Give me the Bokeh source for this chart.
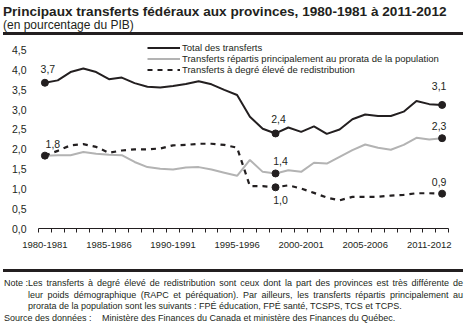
from bokeh.plotting import figure
from bokeh.models import (Range1d, FixedTicker, CustomJSTickFormatter, Legend, LegendItem,
                          Div, ColumnDataSource)
from bokeh.layouts import column
from bokeh.core.properties import value
from bokeh.embed import file_html
from bokeh.resources import INLINE

# ---------------- data ----------------
years = ["1980-1981", "1981-1982", "1982-1983", "1983-1984", "1984-1985", "1985-1986",
         "1986-1987", "1987-1988", "1988-1989", "1989-1990", "1990-1991", "1991-1992",
         "1992-1993", "1993-1994", "1994-1995", "1995-1996", "1996-1997", "1997-1998",
         "1998-1999", "1999-2000", "2000-2001", "2001-2002", "2002-2003", "2003-2004",
         "2004-2005", "2005-2006", "2006-2007", "2007-2008", "2008-2009", "2009-2010",
         "2010-2011", "2011-2012"]
total = [3.68, 3.74, 3.95, 4.04, 3.95, 3.77, 3.81, 3.67, 3.58, 3.56, 3.60, 3.65, 3.72, 3.64,
         3.50, 3.37, 2.82, 2.52, 2.40, 2.55, 2.44, 2.58, 2.39, 2.50, 2.76, 2.88, 2.84, 2.84,
         2.95, 3.22, 3.14, 3.12]
population = [1.84, 1.85, 1.85, 1.93, 1.89, 1.86, 1.85, 1.68, 1.55, 1.51, 1.49, 1.54, 1.55,
              1.49, 1.41, 1.33, 1.73, 1.43, 1.39, 1.47, 1.43, 1.66, 1.64, 1.81, 1.98, 2.12,
              2.04, 1.99, 2.11, 2.29, 2.25, 2.28]
redistribution = [1.84, 1.96, 2.10, 2.13, 2.06, 1.91, 1.97, 2.00, 2.00, 2.02, 2.10, 2.11, 2.14,
                  2.14, 2.11, 2.04, 1.07, 1.07, 1.04, 1.09, 1.01, 0.90, 0.78, 0.71, 0.80, 0.80,
                  0.80, 0.83, 0.85, 0.89, 0.89, 0.88]
tick_positions = [0, 5, 10, 15, 20, 25, 30]
tick_labels = ["1980-1981", "1985-1986", "1990-1991", "1995-1996", "2000-2001", "2005-2006",
               "2011-2012"]
y_ticks = [0, 0.5, 1.0, 1.5, 2.0, 2.5, 3.0, 3.5, 4.0, 4.5]
series_names = ["Total des transferts",
                "Transferts répartis principalement au prorata de la population",
                "Transferts à degré élevé de redistribution"]
title_text = "Principaux transferts fédéraux aux provinces, 1980-1981 à 2011-2012"
subtitle_text = "(en pourcentage du PIB)"
note_lines = ["Les transferts à degré élevé de redistribution sont ceux dont la part des provinces est très différente de",
              "leur poids démographique (RAPC et péréquation). Par ailleurs, les transferts répartis principalement au",
              "prorata de la population sont les suivants : FPÉ éducation, FPÉ santé, TCSPS, TCS et TCPS."]
source_text = "Ministère des Finances du Canada et ministère des Finances du Québec."

FONT = "Liberation Sans"
DARK = "#231f20"
GRAY = "#b3b3b3"

x = list(range(len(years)))

# ---------------- figure ----------------
p = figure(width=467, height=228, output_backend="svg", toolbar_location=None,
           x_range=Range1d(-0.5, len(years) - 0.5), y_range=Range1d(0, 4.747),
           min_border_left=38, min_border_right=19, min_border_top=2, min_border_bottom=38,
           margin=0)
p.outline_line_color = None
p.xgrid.visible = False
p.ygrid.visible = False
p.background_fill_color = "white"
p.border_fill_color = "white"

src = ColumnDataSource(dict(x=x, total=total, pop=population, red=redistribution))
r_tot = p.line("x", "total", source=src, line_color=DARK, line_width=2)
r_pop = p.line("x", "pop", source=src, line_color=GRAY, line_width=2)
r_red = p.line("x", "red", source=src, line_color=DARK, line_width=2.2, line_dash="5 5")

def fmt(v):
    return f"{v:.1f}".replace(".", ",")

pts = [  # (index, series, x_offset, y_offset)
    (0, total, 3, -13.5), (0, population, 8, -12),
    (18, total, 3, -14), (18, population, 5, -12), (18, redistribution, 5, 12.5),
    (31, total, -3, -18.5), (31, population, -3, -12.5), (31, redistribution, -3, -12),
]
lab = ColumnDataSource(dict(
    x=[i for i, s, dx, dy in pts], y=[s[i] for i, s, dx, dy in pts],
    t=[fmt(s[i]) for i, s, dx, dy in pts],
    dx=[dx for i, s, dx, dy in pts], dy=[dy for i, s, dx, dy in pts]))
p.scatter("x", "y", source=lab, size=7, color=DARK)
p.text("x", "y", text="t", source=lab, x_offset="dx", y_offset="dy", text_align="center",
       text_baseline="middle", text_font=value(FONT), text_font_size="10.5px",
       text_color=DARK)

# axes
xa = p.xaxis[0]
xa.ticker = FixedTicker(ticks=tick_positions,
                        minor_ticks=[i - 0.5 for i in range(len(years) + 1)])
xa.major_label_overrides = {pos: lbl for pos, lbl in zip(tick_positions, tick_labels)}
xa.major_tick_out = 0
xa.major_tick_in = 0
xa.minor_tick_out = 4
xa.minor_tick_in = 0
xa.minor_tick_line_color = DARK
xa.axis_line_color = DARK
xa.axis_line_width = 1
xa.major_label_standoff = 9
xa.major_label_text_font = FONT
xa.major_label_text_font_size = "9.5px"
xa.major_label_text_color = DARK

ya = p.yaxis[0]
ya.ticker = FixedTicker(ticks=y_ticks)
ya.formatter = CustomJSTickFormatter(code="return tick.toFixed(1).replace('.', ',')")
ya.axis_line_color = None
ya.major_tick_line_color = None
ya.minor_tick_line_color = None
ya.major_label_standoff = 6
ya.major_label_text_font = FONT
ya.major_label_text_font_size = "10.5px"
ya.major_label_text_color = DARK

legend = Legend(items=[LegendItem(label=series_names[0], renderers=[r_tot]),
                       LegendItem(label=series_names[1], renderers=[r_pop]),
                       LegendItem(label=series_names[2], renderers=[r_red])],
                location=(109, 153), orientation="vertical",
                glyph_width=33, glyph_height=11, label_height=11, label_standoff=2,
                spacing=0, padding=0, margin=0, border_line_color=None,
                background_fill_alpha=0, label_text_font=FONT, label_text_font_size="9.5px",
                label_text_color=DARK)
p.add_layout(legend, "center")

# ---------------- text blocks ----------------
top_html = f"""
<div style="position:relative;width:467px;height:38px;font-family:'{FONT}';color:{DARK};">
  <div style="position:absolute;left:3px;top:2px;font-size:13.6px;font-weight:bold;white-space:nowrap;">{title_text}</div>
  <div style="position:absolute;left:3px;top:17px;font-size:12px;white-space:nowrap;">{subtitle_text}</div>
  <div style="position:absolute;left:3px;top:32px;width:460px;height:3px;background:{DARK};"></div>
</div>"""
jl = "text-align:justify;text-align-last:justify;"
bottom_html = f"""
<div style="position:relative;width:467px;height:59px;font-family:'{FONT}';color:{DARK};font-size:9px;line-height:11.5px;">
  <div style="position:absolute;left:3px;top:3px;width:460px;height:3px;background:{DARK};"></div>
  <div style="position:absolute;left:4px;top:12px;white-space:nowrap;">Note :</div>
  <div style="position:absolute;left:28px;top:12px;width:435px;{jl}white-space:nowrap;">{note_lines[0]}</div>
  <div style="position:absolute;left:28px;top:23.5px;width:435px;{jl}white-space:nowrap;">{note_lines[1]}</div>
  <div style="position:absolute;left:28px;top:35px;white-space:nowrap;">{note_lines[2]}</div>
  <div style="position:absolute;left:4px;top:46.5px;white-space:nowrap;">Source des données :</div>
  <div style="position:absolute;left:102px;top:46.5px;white-space:nowrap;">{source_text}</div>
</div>"""
top = Div(text=top_html, width=467, height=38, margin=0)
bottom = Div(text=bottom_html, width=467, height=59, margin=0)

layout = column(top, p, bottom, spacing=0, margin=0)
open("out.html", "w").write(file_html(layout, INLINE))
